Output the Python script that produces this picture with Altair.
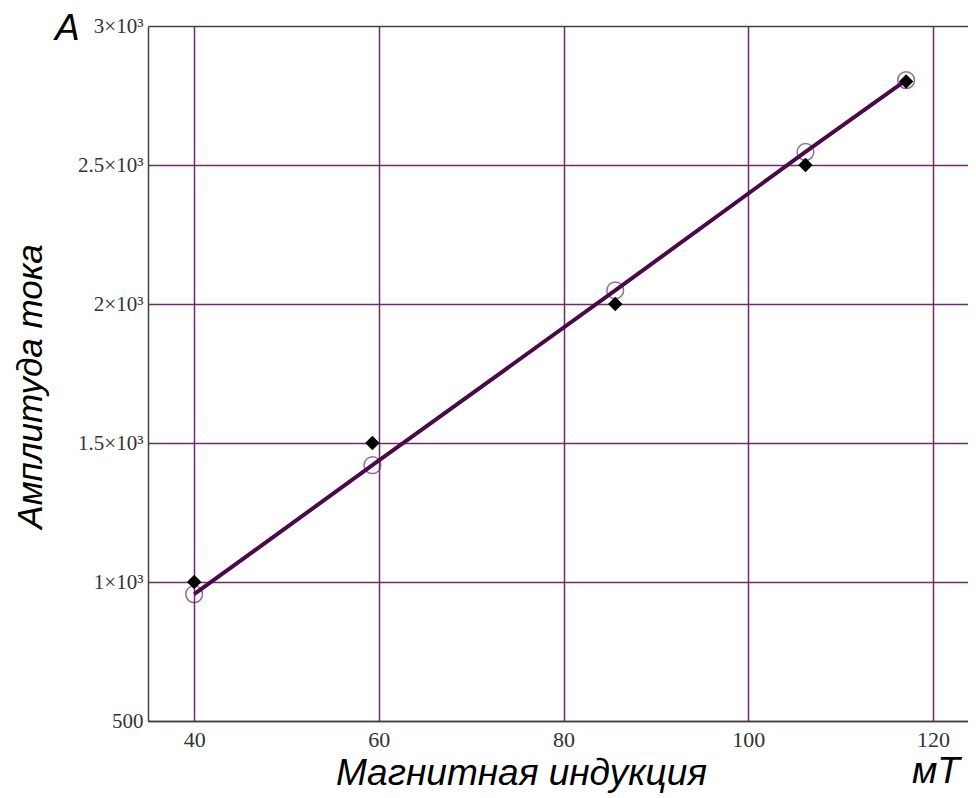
import altair as alt
import pandas as pd

# data
induction = [40, 59.3, 85.6, 106.2, 117.1]          # mT
measured = [1000, 1500, 2000, 2500, 2800]           # A (filled diamonds)
fitted = [956, 1420, 2049, 2547, 2805]              # A (open circles, fit line)
x_ticks = [40, 60, 80, 100, 120]
y_ticks = [500, 1000, 1500, 2000, 2500, 3000]
y_tick_labels = ["500", "1×10³", "1.5×10³", "2×10³", "2.5×10³", "3×10³"]

df = pd.DataFrame({"B": induction, "I": measured, "F": fitted})

grid_col = "#6e2a6e"
axis_col = "#404040"
label_font = "Liberation Serif"
title_font = "Liberation Sans"

x_scale = alt.Scale(domain=[35, 123.8], nice=False, zero=False)
y_scale = alt.Scale(domain=[500, 3000], nice=False, zero=False)

label_expr = "[{}][indexof([{}], datum.value)]".format(
    ",".join("'" + s + "'" for s in y_tick_labels),
    ",".join(str(v) for v in y_ticks),
)

x_axis = alt.Axis(
    values=x_ticks, title="Магнитная индукция", grid=True, gridColor=grid_col,
    gridWidth=1.5, ticks=False, domainColor=axis_col, domainWidth=1.5,
    labelFont=label_font, labelFontSize=22, labelColor="#333333",
    labelPadding=8, labelOverlap=False, labelFlush=False,
    titleFont=title_font, titleFontStyle="italic", titleFontWeight="normal",
    titleFontSize=37, titleColor="black", titleX=373, titleY=63,
    titleBaseline="alphabetic", titleAlign="center",
)
y_axis = alt.Axis(
    values=y_ticks, labelExpr=label_expr, title="Амплитуда тока", grid=True,
    gridColor=alt.condition("datum.value === 3000", alt.value(axis_col), alt.value(grid_col)),
    gridWidth=1.5, ticks=False, domainColor=axis_col, domainWidth=1.5,
    labelFont=label_font, labelFontSize=21, labelColor="#333333",
    labelPadding=5, labelOverlap=False, labelBaseline="middle",
    titleFont=title_font, titleFontStyle="italic", titleFontWeight="normal",
    titleFontSize=35, titleColor="black", titleX=-107, titleY=360,
    titleAngle=270, titleBaseline="alphabetic", titleAlign="center",
)

base = alt.Chart(df)

circles = base.mark_point(shape="circle", filled=False, color=grid_col, size=280, strokeWidth=1.5).encode(
    x=alt.X("B:Q", scale=x_scale, axis=x_axis),
    y=alt.Y("F:Q", scale=y_scale, axis=y_axis),
)
line = base.mark_line(color="#4a0a4a", strokeWidth=4).encode(
    x=alt.X("B:Q", scale=x_scale),
    y=alt.Y("F:Q", scale=y_scale),
)
diamonds = base.mark_point(shape="diamond", filled=True, color="black", size=210, opacity=1).encode(
    x=alt.X("B:Q", scale=x_scale),
    y=alt.Y("I:Q", scale=y_scale),
)

unit_a = alt.Chart(pd.DataFrame({"t": ["А"]})).mark_text(
    font=title_font, fontStyle="italic", fontSize=37, align="left", baseline="alphabetic", color="black"
).encode(x=alt.value(-93), y=alt.value(14), text="t:N")
unit_mt = alt.Chart(pd.DataFrame({"t": ["мТ"]})).mark_text(
    font=title_font, fontStyle="italic", fontSize=37, align="left", baseline="alphabetic", color="black"
).encode(x=alt.value(764), y=alt.value(757), text="t:N")

chart = alt.layer(circles, line, diamonds, unit_a, unit_mt).properties(
    width=820, height=695,
    autosize=alt.AutoSizeParams(type="none"),
    padding={"left": 140, "top": 18, "right": 0, "bottom": 76},
).configure_view(stroke=None)

chart.save("out.html", embed_options={"renderer": "svg", "actions": False})
